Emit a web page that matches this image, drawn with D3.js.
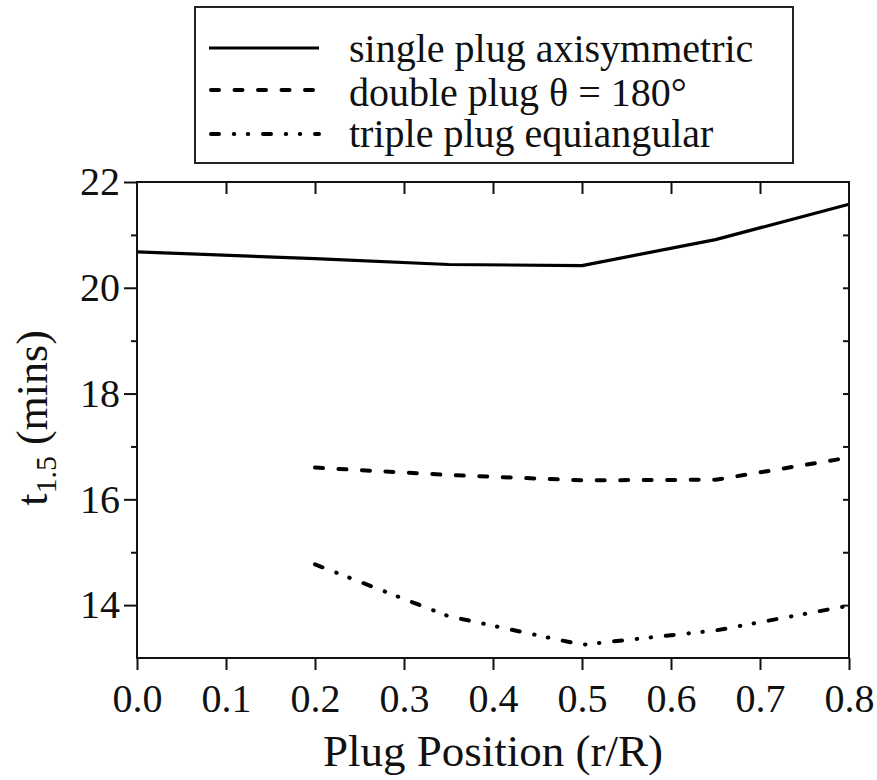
<!DOCTYPE html>
<html>
<head>
<meta charset="utf-8">
<script src="https://cdn.jsdelivr.net/npm/d3@7"></script>
<style>
  html, body { margin: 0; padding: 0; background: #fff; }
  svg text { font-family: "Liberation Serif", "Times New Roman", serif; fill: #111; }
</style>
</head>
<body>
<svg id="chart" width="877" height="780"></svg>
<script>
// Plug position (r/R) at which each configuration was evaluated
const positionsSingle = [0.0, 0.2, 0.35, 0.5, 0.65, 0.8];
const positionsMulti  = [0.2, 0.35, 0.5, 0.65, 0.8];

// t_1.5 (mins) for each configuration
const singleAxisymmetric = [20.68, 20.55, 20.44, 20.42, 20.91, 21.58];
const doublePlug180      = [16.60, 16.46, 16.36, 16.37, 16.79];
const triplePlugEquiang  = [14.77, 13.79, 13.25, 13.52, 13.99];

const xTicks = [0.0, 0.1, 0.2, 0.3, 0.4, 0.5, 0.6, 0.7, 0.8];
const yMajorTicks = [14, 16, 18, 20, 22];
const yMinorTicks = [15, 17, 19, 21];

const legendLabels = ["single plug axisymmetric", "double plug \u03B8 = 180\u00B0", "triple plug equiangular"];

const svg = d3.select("#chart");
const plotLeft = 137, plotRight = 849, plotTop = 182, plotBottom = 658;

const x = d3.scaleLinear().domain([0, 0.8]).range([plotLeft, plotRight]);
const y = d3.scaleLinear().domain([13, 22]).range([plotBottom, plotTop]);

const series = [
  { xs: positionsSingle, ys: singleAxisymmetric, dash: null, width: 3.2 },
  { xs: positionsMulti, ys: doublePlug180, dash: "8,15.5", width: 4 },
  { xs: positionsMulti, ys: triplePlugEquiang, dash: "8,14.75,0.5,13.5,0.5,14.75", width: 4 }
];

const line = d3.line().x(d => x(d[0])).y(d => y(d[1]));

// data lines
series.forEach(s => {
  const pts = s.xs.map((v, i) => [v, s.ys[i]]);
  svg.append("path")
    .attr("d", line(pts))
    .attr("fill", "none")
    .attr("stroke", "#000")
    .attr("stroke-width", s.width)
    .attr("stroke-linecap", s.dash ? "round" : "butt")
    .attr("stroke-linejoin", "round")
    .attr("stroke-dasharray", s.dash);
});

const fontSize = 40;

// bottom axis: outward ticks with labels
const xAxis = svg.append("g").attr("transform", `translate(0,${plotBottom})`)
  .call(d3.axisBottom(x).tickValues(xTicks).tickSize(12).tickSizeOuter(0)
    .tickFormat(d3.format(".1f")).tickPadding(14));
// top axis: inward ticks, no labels
const xTop = svg.append("g").attr("transform", `translate(0,${plotTop})`)
  .call(d3.axisBottom(x).tickValues(xTicks.slice(1, -1)).tickSize(12).tickSizeOuter(0).tickFormat(""));
// left axis: outward major ticks with labels, shorter minor ticks
const yAxis = svg.append("g").attr("transform", `translate(${plotLeft},0)`)
  .call(d3.axisLeft(y).tickValues(yMajorTicks).tickSize(13).tickSizeOuter(0).tickPadding(4));
const yMinor = svg.append("g").attr("transform", `translate(${plotLeft},0)`)
  .call(d3.axisLeft(y).tickValues(yMinorTicks).tickSize(6).tickSizeOuter(0).tickFormat(""));
// right axis: short inward ticks
const yRight = svg.append("g").attr("transform", `translate(${plotRight},0)`)
  .call(d3.axisLeft(y).tickValues(d3.range(14, 22)).tickSize(6).tickSizeOuter(0).tickFormat(""));

[xAxis, xTop, yAxis, yMinor, yRight].forEach(g => {
  g.select(".domain").remove();
  g.selectAll(".tick line").attr("stroke", "#111").attr("stroke-width", 2);
  g.selectAll(".tick text").attr("fill", "#111")
    .style("font-family", '"Liberation Serif", serif').style("font-size", fontSize + "px");
});
yRight.selectAll(".tick line").attr("x2", -6);

// plot frame
svg.append("rect")
  .attr("x", plotLeft).attr("y", plotTop)
  .attr("width", plotRight - plotLeft).attr("height", plotBottom - plotTop)
  .attr("fill", "none").attr("stroke", "#111").attr("stroke-width", 2);

// axis titles
svg.append("text")
  .attr("x", (plotLeft + plotRight) / 2).attr("y", 766)
  .attr("text-anchor", "middle")
  .style("font-size", "45px")
  .text("Plug Position (r/R)");

const yTitle = svg.append("text")
  .attr("transform", `translate(47,418) rotate(-90)`)
  .attr("text-anchor", "middle")
  .style("font-size", "44px");
yTitle.append("tspan").text("t");
yTitle.append("tspan").attr("dy", 9).style("font-size", "30px").text("1.5");
yTitle.append("tspan").attr("dy", -9).text(" (mins)");

// legend
const legend = svg.append("g");
legend.append("rect")
  .attr("x", 195).attr("y", 7).attr("width", 598).attr("height", 156)
  .attr("fill", "#fff").attr("stroke", "#222").attr("stroke-width", 2);
const legendRows = [48, 90, 134];
series.forEach((s, i) => {
  legend.append("line")
    .attr("x1", s.dash ? 211 : 209).attr("x2", 319)
    .attr("y1", legendRows[i]).attr("y2", legendRows[i])
    .attr("stroke", "#000").attr("stroke-width", s.width)
    .attr("stroke-linecap", s.dash ? "round" : "butt")
    .attr("stroke-dasharray", s.dash);
  legend.append("text")
    .attr("x", 349).attr("y", [62, 106, 147][i])
    .style("font-size", fontSize + "px")
    .text(legendLabels[i]);
});
</script>
</body>
</html>
